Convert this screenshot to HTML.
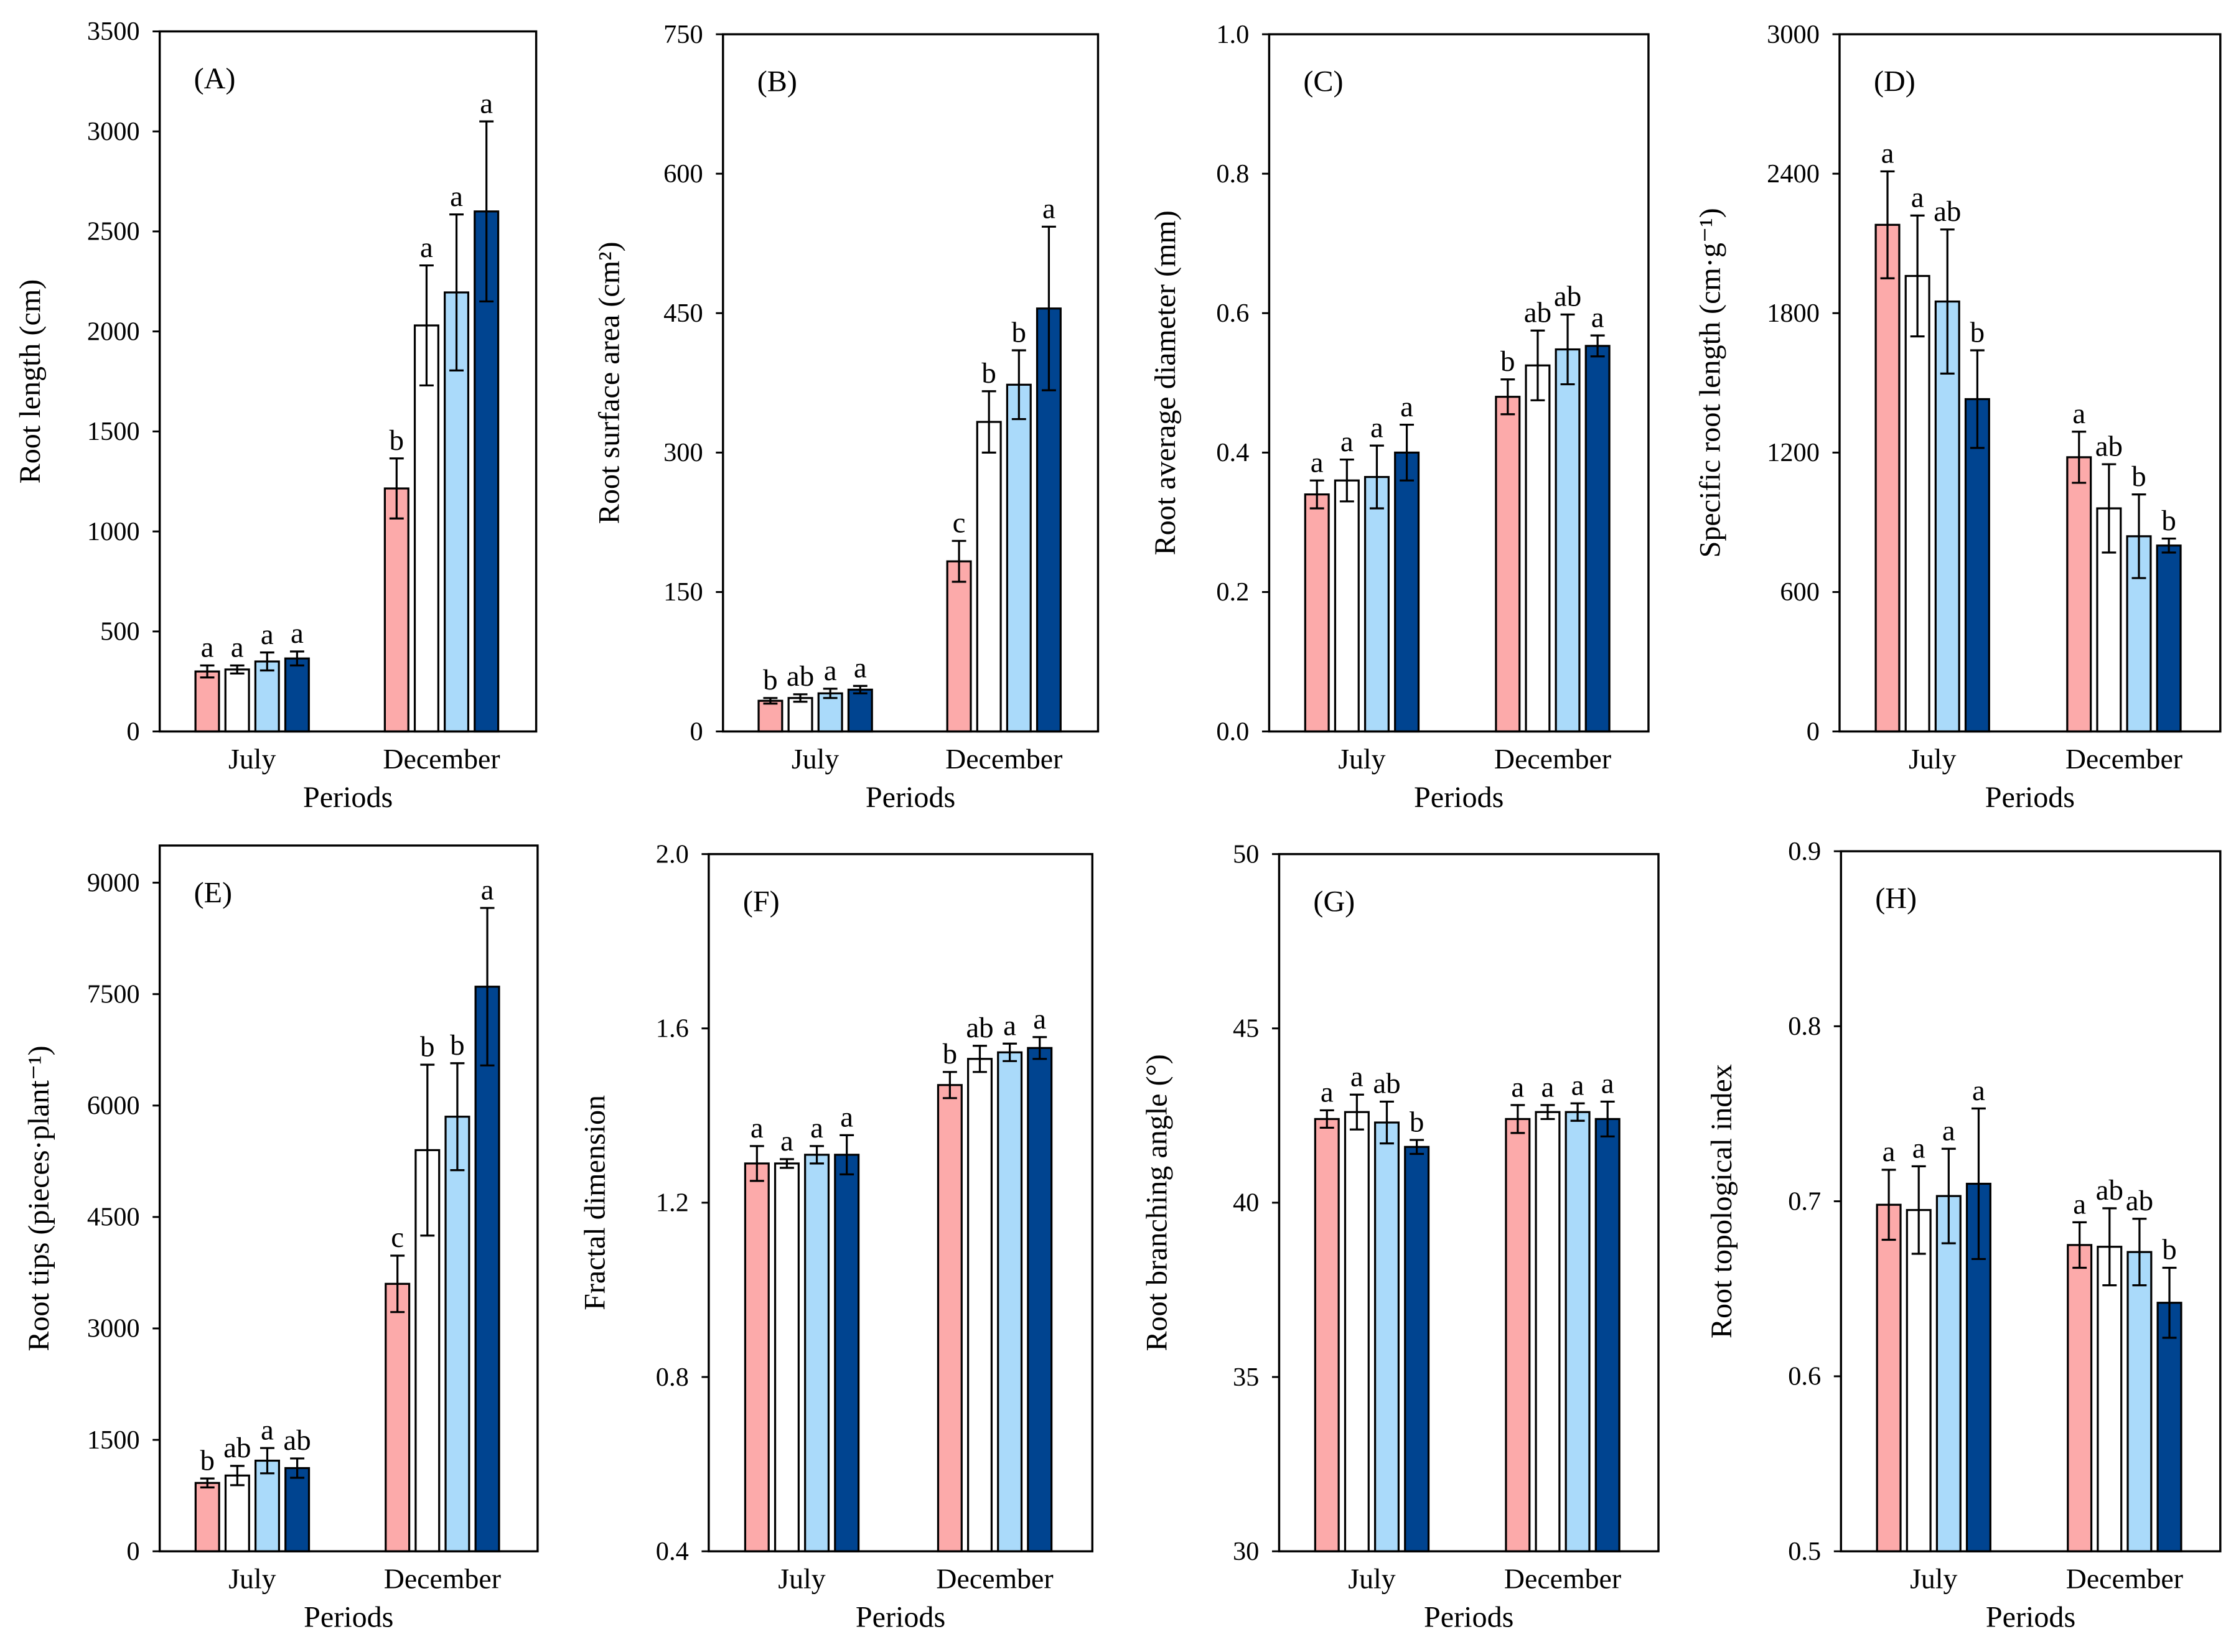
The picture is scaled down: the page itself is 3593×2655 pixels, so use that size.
<!DOCTYPE html>
<html><head><meta charset="utf-8"><style>
html,body{margin:0;padding:0;background:#fff;}
svg{display:block;}
text{font-family:"Liberation Serif",serif;fill:#000;}
</style></head><body>
<svg id="fig" width="3593" height="2655" viewBox="0 0 1568 1158.6" xmlns="http://www.w3.org/2000/svg"></svg>
<script>
const periods = ["July","December"];
const colors = ["#fcaaaa","#ffffff","#aadafa","#004490"];
const panelIds = ["A","B","C","D","E","F","G","H"];
const yTitles = ["Root length (cm)","Root surface area (cm²)","Root average diameter (mm)","Specific root length (cm·g⁻¹)","Root tips (pieces·plant⁻¹)","Fractal dimension","Root branching angle (°)","Root topological index"];
const yMins = [0,0,0,0,0,0.4,30,0.5];
const yMaxs = [3500,750,1.0,3000,9500,2.0,50,0.9];
const tickA = [0,500,1000,1500,2000,2500,3000,3500];
const tickB = [0,150,300,450,600,750];
const tickC = ["0.0","0.2","0.4","0.6","0.8","1.0"];
const tickD = [0,600,1200,1800,2400,3000];
const tickE = [0,1500,3000,4500,6000,7500,9000];
const tickF = ["0.4","0.8","1.2","1.6","2.0"];
const tickG = [30,35,40,45,50];
const tickH = ["0.5","0.6","0.7","0.8","0.9"];
const ticks = [tickA,tickB,tickC,tickD,tickE,tickF,tickG,tickH];
const valA = [300,310,350,365,1215,2030,2195,2600];
const errA = [30,20,45,35,150,300,390,450];
const letA = ["a","a","a","a","b","a","a","a"];
const valB = [33,36,41,45,183,333,373,455];
const errB = [3,4,5,4,22,33,37,88];
const letB = ["b","ab","a","a","c","b","b","a"];
const valC = [0.34,0.36,0.365,0.40,0.48,0.525,0.548,0.553];
const errC = [0.02,0.03,0.045,0.04,0.025,0.05,0.05,0.015];
const letC = ["a","a","a","a","b","ab","ab","a"];
const valD = [2180,1960,1850,1430,1180,960,840,800];
const errD = [230,260,310,210,110,190,180,30];
const letD = ["a","a","ab","b","a","ab","b","b"];
const valE = [920,1020,1220,1120,3600,5400,5850,7600];
const errE = [60,130,170,130,380,1150,720,1060];
const letE = ["b","ab","a","ab","c","b","b","a"];
const valF = [1.29,1.29,1.31,1.31,1.47,1.53,1.545,1.555];
const errF = [0.04,0.01,0.02,0.045,0.03,0.03,0.02,0.025];
const letF = ["a","a","a","a","b","ab","a","a"];
const valG = [42.4,42.6,42.3,41.6,42.4,42.6,42.6,42.4];
const errG = [0.25,0.5,0.6,0.2,0.4,0.2,0.25,0.5];
const letG = ["a","a","ab","b","a","a","a","a"];
const valH = [0.698,0.695,0.703,0.71,0.675,0.674,0.671,0.642];
const errH = [0.02,0.025,0.027,0.043,0.013,0.022,0.019,0.02];
const letH = ["a","a","a","a","a","ab","ab","b"];
const vals = [valA,valB,valC,valD,valE,valF,valG,valH];
const errs = [errA,errB,errC,errD,errE,errF,errG,errH];
const lets = [letA,letB,letC,letD,letE,letF,letG,letH];

const boxes = [[112,22,376,513],[507,24,770,513],[890,24,1156,513],[1290,24,1557,513],
               [112,593,377,1088],[497,599,766,1088],[897,599,1163,1088],[1291,597,1557,1088]];
const titleX = [22,428,818,1200,28,418,812,1208];
const NS="http://www.w3.org/2000/svg";
const svg=document.getElementById('fig');
function mk(tag,attrs,parent){const e=document.createElementNS(NS,tag);for(const k in attrs)e.setAttribute(k,attrs[k]);(parent||svg).appendChild(e);return e;}

for(let p=0;p<8;p++){
  const [L,T,R,B]=boxes[p];
  const g=mk('g',{});
  
  
  const y=v=>B-(v-yMins[p])/(yMaxs[p]-yMins[p])*(B-T);
  const W=R-L;
  const bw=16.5, step=21;
  const gStart=[L+0.095*W, L+0.598*W];
  const xBar=(gi,si)=>gStart[gi]+si*step;
  ticks[p].forEach(t=>{
    const ty=y(parseFloat(t));
    const tk=mk('line',{x1:L-5,x2:L,y1:ty,y2:ty,stroke:'#000','stroke-width':1.3},g);
    
    
    const tl=mk('text',{x:L-14,y:ty+6,'text-anchor':'end','font-size':18.5},g);
    
    
    tl.textContent=t;
  });
  for(let i=0;i<8;i++){
    const gi=Math.floor(i/4), si=i%4;
    const x=xBar(gi,si), v=vals[p][i], e=errs[p][i];
    const r=mk('rect',{x:x,y:y(v),width:bw,height:B-y(v),fill:colors[si],stroke:'#000','stroke-width':1.4},g);
    
    
    const cx=x+bw/2, y1=y(v+e), y2=y(v-e);
    const eb=mk('path',{d:`M${cx},${y1}V${y2}M${cx-5},${y1}H${cx+5}M${cx-5},${y2}H${cx+5}`,stroke:'#000','stroke-width':1.4,fill:'none'},g);
    
    
    const lt=mk('text',{x:cx,y:y1-6,'text-anchor':'middle','font-size':20.5},g);
    
    
    lt.textContent=lets[p][i];
  }
  const fr=mk('rect',{x:L,y:T,width:W,height:B-T,fill:'none',stroke:'#000','stroke-width':1.5},g);
  
  
  for(let gi=0;gi<2;gi++){
    const cx=xBar(gi,0)+(3*step+bw)/2;
    const xl=mk('text',{x:cx,y:B+26,'text-anchor':'middle','font-size':20},g);
    
    
    xl.textContent=periods[gi];
  }
  const xt=mk('text',{x:(L+R)/2,y:B+53,'text-anchor':'middle','font-size':21},g);
  
  
  xt.textContent='Periods';
  const yt=mk('text',{x:titleX[p],y:(T+B)/2,'text-anchor':'middle','font-size':21,transform:`rotate(-90 ${titleX[p]} ${(T+B)/2})`,dy:6},g);
  
  
  yt.textContent=yTitles[p];
  const pl=mk('text',{x:L+24,y:T+40,'font-size':21},g);
  
  
  pl.textContent='('+panelIds[p]+')';
}
</script>
</body></html>
